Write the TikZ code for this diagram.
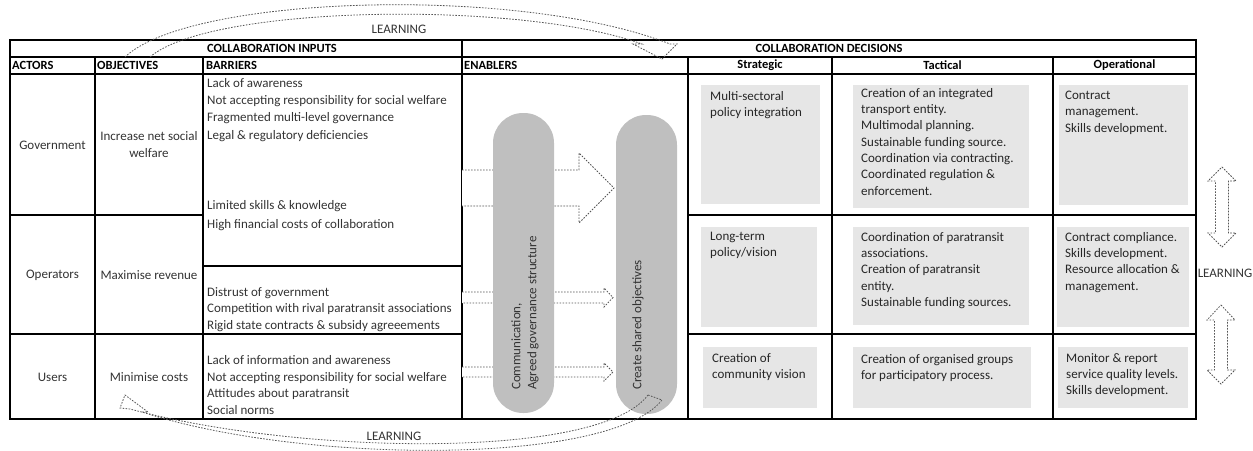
\documentclass[tikz,border=0pt]{standalone}
\usepackage{fontspec}
\setmainfont{Carlito}
\usetikzlibrary{calc}
\definecolor{txtc}{HTML}{333333}
\definecolor{pillc}{HTML}{BFBFBF}
\definecolor{boxc}{HTML}{E6E6E6}
\definecolor{dashc}{HTML}{555555}
\tikzset{
 tbl/.style={line width=1.1pt, black},
 hdr/.style={font=\bfseries\fontsize{12.5}{14}\selectfont, inner sep=0pt, text=black},
 cell/.style={font=\fontsize{13}{17}\selectfont, inner sep=0pt, text=txtc, align=center},
 bar/.style={inner sep=0pt, text=txtc, align=left, anchor=north west},
 gbox/.style={fill=boxc, draw=none, inner sep=0pt, anchor=north west},
 gtxt/.style={font=\fontsize{13}{16.3}\selectfont, inner sep=0pt, text=black!85, align=left, anchor=north west},
 pill/.style={fill=pillc, draw=none, rounded corners=30pt, inner sep=0pt, minimum width=61pt},
 ptxt/.style={font=\fontsize{13}{16}\selectfont, inner sep=0pt, text=txtc, align=left, rotate=90, anchor=west},
 dsh/.style={dashc, line width=0.8pt, dash pattern=on 1.6pt off 1.4pt},
 lbl/.style={font=\fontsize{13}{14}\selectfont, text=txtc, inner sep=0pt},
}
\begin{document}
\begin{tikzpicture}[x=1pt,y=-1pt]
\useasboundingbox (0,0) rectangle (1253,450);

% table
\draw[tbl] (10,40) rectangle (1196,419);
\draw[tbl] (10,57) -- (1196,57);
\draw[tbl] (10,74) -- (1196,74);
\draw[tbl] (462,40) -- (462,419);
\foreach \xx in {95,203,688,832,1053} \draw[tbl] (\xx,57) -- (\xx,419);
\draw[tbl] (10,215) -- (203,215);
\draw[tbl] (688,215) -- (1196,215);
\draw[tbl] (203,266) -- (462,266);
\draw[tbl] (10,334) -- (462,334);
\draw[tbl] (688,334) -- (1196,334);

% headers
\node[hdr] (hin) at (272,48.5) {COLLABORATION INPUTS};
\node[hdr] (hdec) at (829,48.5) {COLLABORATION DECISIONS};
\node[hdr, anchor=west] (hact) at (12,65.5) {ACTORS};
\node[hdr, anchor=west] (hobj) at (97,65.5) {OBJECTIVES};
\node[hdr, anchor=west] (hbar) at (206,65.5) {BARRIERS};
\node[hdr, anchor=west] (hena) at (464,65.5) {ENABLERS};
\node[hdr] (hstr) at (760,65.5) {Strategic};
\node[hdr] (htac) at (942.5,65.5) {Tactical};
\node[hdr] (hope) at (1124.5,65.5) {Operational};

% actors & objectives
\node[cell] (gov) at (52.5,145) {Government};
\node[cell] (opr) at (52.5,275) {Operators};
\node[cell] (usr) at (52.5,377) {Users};
\node[cell] (ogov) at (149,145) {Increase net social\\welfare};
\node[cell] (oopr) at (149,275) {Maximise revenue};
\node[cell] (ousr) at (149,377) {Minimise costs};

% barriers
\node[bar, font=\fontsize{13}{17.3}\selectfont] (b1) at (207,78) {Lack of awareness\\Not accepting responsibility for social welfare\\Fragmented multi-level governance\\Legal \& regulatory deficiencies};
\node[bar, font=\fontsize{13}{18.3}\selectfont] (b2) at (207,200.5) {Limited skills \& knowledge\\High financial costs of collaboration};
\node[bar, font=\fontsize{13}{16.5}\selectfont] (b3) at (207,287) {Distrust of government\\Competition with rival paratransit associations\\Rigid state contracts \& subsidy agreeements};
\node[bar, font=\fontsize{13}{16.5}\selectfont] (b4) at (207,355.5) {Lack of information and awareness\\Not accepting responsibility for social welfare\\Attitudes about paratransit\\Social norms};

% enabler arrows (behind pills)
\draw[dsh, fill=white] (462,170) -- (579,170) -- (579,153) -- (614,188) -- (579,223) -- (579,206) -- (462,206);
\draw[dsh, fill=white] (462,292) -- (604,292) -- (604,288) -- (613,297.5) -- (604,307) -- (604,303) -- (462,303);
\draw[dsh, fill=white] (462,367) -- (604,367) -- (604,363) -- (613,372) -- (604,381) -- (604,377) -- (462,377);

% pills
\node[pill, minimum height=300pt] (pillA) at (523.5,263) {};
\node[pill, minimum height=299pt] (pillB) at (646.5,264.5) {};
\node[ptxt] (pillAt) at (525,390) {Communication,\\Agreed governance structure};
\node[ptxt] (pillBt) at (638,390) {Create shared objectives};

% decision boxes
\node[gbox, minimum width=119pt, minimum height=119pt] (s1) at (701,85) {};
\node[gtxt] (s1t) at (710,91) {Multi-sectoral\\policy integration};
\node[gbox, minimum width=176pt, minimum height=123pt] (t1) at (853,85) {};
\node[gtxt] (t1t) at (861,88) {Creation of an integrated\\transport entity.\\Multimodal planning.\\Sustainable funding source.\\Coordination via contracting.\\Coordinated regulation \&\\enforcement.};
\node[gbox, minimum width=129pt, minimum height=120pt] (o1) at (1059,85) {};
\node[gtxt] (o1t) at (1065,91) {Contract\\management.\\Skills development.};

\node[gbox, minimum width=116pt, minimum height=100pt] (s2) at (701,227) {};
\node[gtxt] (s2t) at (710,232) {Long-term\\policy/vision};
\node[gbox, minimum width=176pt, minimum height=98pt] (t2) at (853,227) {};
\node[gtxt] (t2t) at (861,232) {Coordination of paratransit\\associations.\\Creation of paratransit\\entity.\\Sustainable funding sources.};
\node[gbox, minimum width=132pt, minimum height=100pt] (o2) at (1057,227) {};
\node[gtxt] (o2t) at (1065,232) {Contract compliance.\\Skills development.\\Resource allocation \&\\management.};

\node[gbox, minimum width=114pt, minimum height=61pt] (s3) at (703,347) {};
\node[gtxt] (s3t) at (712,353) {Creation of\\community vision};
\node[gbox, minimum width=178pt, minimum height=61pt] (t3) at (853,347) {};
\node[gtxt] (t3t) at (861,354) {Creation of organised groups\\for participatory process.};
\node[gbox, minimum width=130pt, minimum height=61pt] (o3) at (1058,347) {};
\node[gtxt] (o3t) at (1066,353) {Monitor \& report\\service quality levels.\\Skills development.};

% right learning arrows
\draw[dsh] (1222,167) -- (1236,181) -- (1228.5,181) -- (1228.5,233) -- (1236,233) -- (1222,247) -- (1208,233) -- (1215.5,233) -- (1215.5,181) -- (1208,181) -- cycle;
\draw[dsh] (1221,305) -- (1235,320) -- (1227.5,320) -- (1227.5,370) -- (1235,370) -- (1221,384) -- (1207,370) -- (1214.5,370) -- (1214.5,320) -- (1207,320) -- cycle;
\node[lbl] (lright) at (1225,273) {LEARNING};

% top learning arrow
\draw[dsh] (125,57) .. controls (190,-5) and (520,-15) .. (670,44) -- (677,44) -- (662,59) -- (633,44) -- (642,44) .. controls (520,0) and (210,5) .. (150,57);
\node[lbl] (ltop) at (399,29) {LEARNING};

% bottom learning arrow
\draw[dsh] (648,395) .. controls (600,460) and (300,455) .. (130,409) -- (120,408) -- (125,395) -- (148,412) -- (142,412) .. controls (300,464) and (610,466) .. (662,400) -- cycle;
\node[lbl] (lbot) at (394,436) {LEARNING};
\end{tikzpicture}
\end{document}
